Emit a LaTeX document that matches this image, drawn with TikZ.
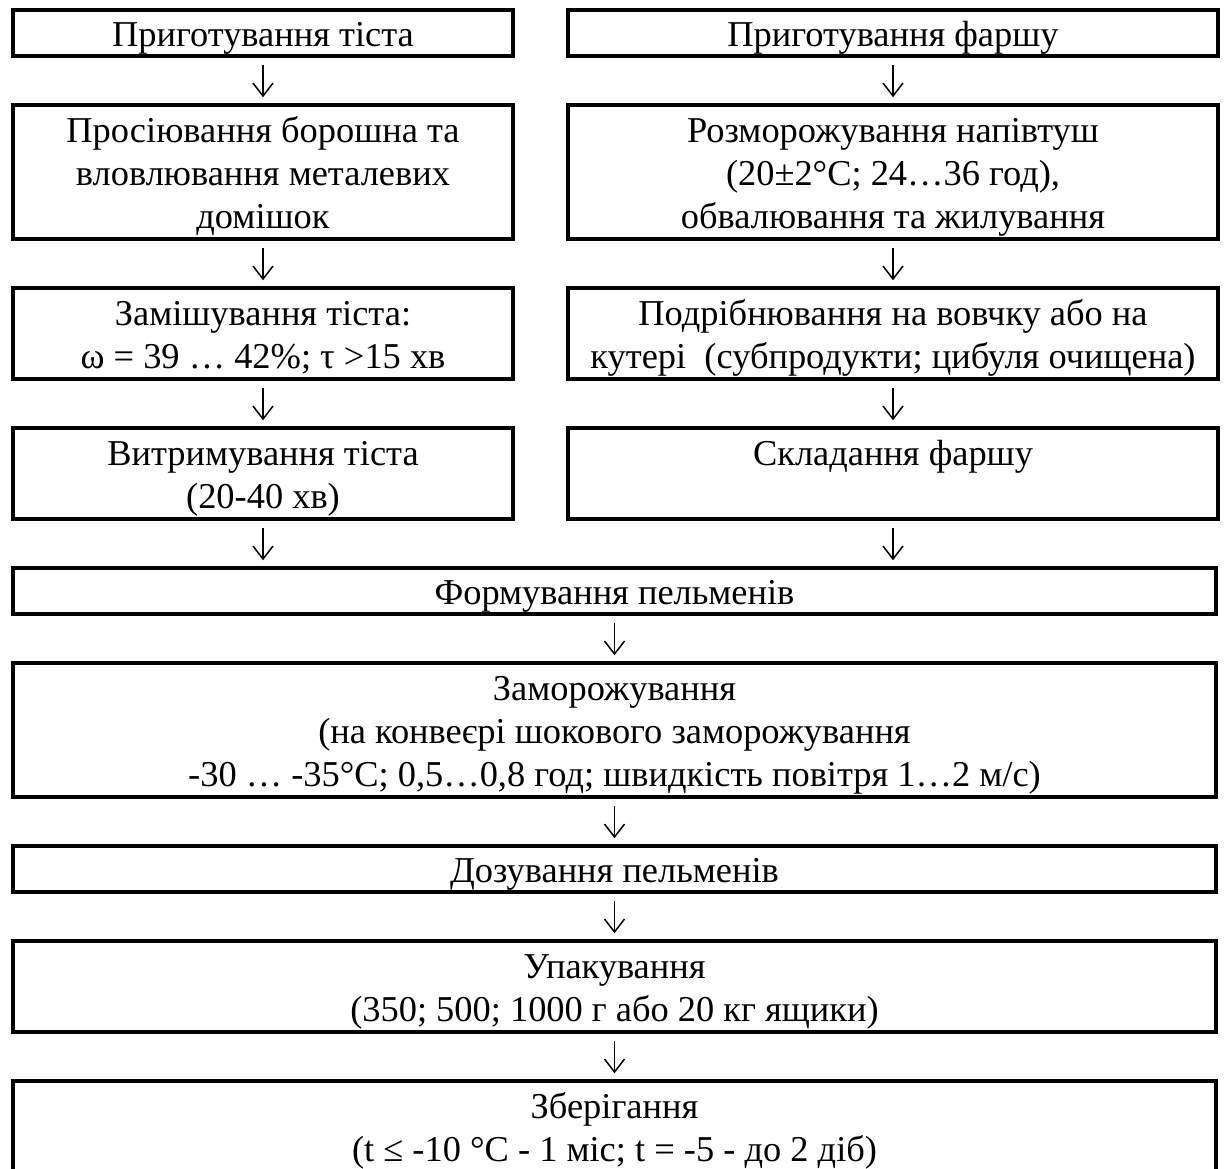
\documentclass[tikz,border=0pt]{standalone}
\usepackage{fontspec}
\setmainfont{Liberation Serif}
\usetikzlibrary{arrows.meta,positioning}
\newcommand{\mystrut}{\rule[-4pt]{0pt}{21pt}}
\newcommand{\myspacing}{\spaceskip=0.25em\relax}

\begin{document}
\begin{tikzpicture}[
      x=0.5pt, y=-0.5pt,
      mybox/.style={
         rectangle,
         draw=black,
         line width=1.75pt,
         inner xsep=2pt,
         inner ysep=0pt,
         align=center,
         execute at begin node=\myspacing\mystrut,
         execute at end node=\mystrut,
         font=\fontsize{18.2}{21.5}\selectfont},
      box_left/.style={mybox, minimum width=250pt, text width=240pt},
      box_right/.style={mybox, minimum width=325pt, text width=318pt},
      box_wide/.style={mybox, minimum width=601.5pt, text width=590pt},
      oneline/.style={minimum height=23pt},
      twoline/.style={minimum height=45.5pt},
      threeline/.style={minimum height=67pt},
      myarrow/.style={
        -{Straight Barb[length=6.5pt,width=10pt]},
        line width=0.75pt,
        shorten <=3.5pt,
        shorten >=3pt},
        node distance=22.75pt and 25.75pt,
      ]
      \useasboundingbox (0,0) rectangle (1225,1168);

      % dough
      \node[box_left,oneline,anchor=north west] (t1) at (11.25,8.25) {Приготування тіста};
      \node[box_left,threeline,below=of t1] (t2) {Просіювання борошна та\\вловлювання металевих\\домішок};
      \node[box_left,twoline,below=of t2] (t3) {Замішування тіста:\\ω = 39 … 42\%; τ >15 хв};
      \node[box_left,twoline,below=of t3] (t4) {Витримування тіста\\(20-40 хв)};

      % filling
      \node[box_right,oneline,right=of t1] (f1) {Приготування фаршу};
      \node[box_right,threeline,below=of f1] (f2) {Розморожування напівтуш\\(20±2°C; 24…36 год),\\обвалювання та жилування};
      \node[box_right,twoline,below=of f2] (f3) {Подрібнювання на вовчку або на\\кутері~ (субпродукти; цибуля очищена)};
      \node[box_right,twoline,below=of f3] (f4) {Складання фаршу\\\mbox{}};

      % common line
      \node[box_wide,oneline,below=of t4.south west,anchor=north west] (p5) {Формування пельменів};
      \node[box_wide,threeline,below=of p5] (p6) {Заморожування\\(на конвеєрі шокового заморожування\\-30 … -35°C; 0,5…0,8 год; швидкість повітря 1…2 м/с)};
      \node[box_wide,oneline,below=of p6] (p7) {Дозування пельменів};
      \node[box_wide,twoline,below=of p7] (p8) {Упакування\\(350; 500; 1000 г або 20 кг ящики)};
      \node[box_wide,twoline,below=of p8] (p9) {Зберігання\\(t ≤ -10 °C - 1 міс; t = -5 - до 2 діб)};

    \foreach \i/\j in {t1/t2, t2/t3, t3/t4,
      f1/f2, f2/f3, f3/f4,
      p5/p6, p6/p7, p7/p8, p8/p9}
      \draw [myarrow] (\i) -- (\j);

    \draw [myarrow] (t4) -- (t4 |- p5.north);
    \draw [myarrow] (f4) -- (f4 |- p5.north);
    \end{tikzpicture}
\end{document}
